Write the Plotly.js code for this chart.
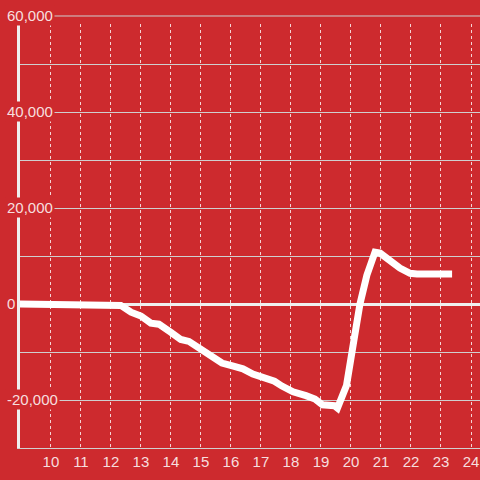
<!DOCTYPE html>
<html>
<head>
<meta charset="utf-8">
<script src="https://cdn.plot.ly/plotly-3.0.1.min.js"></script>
<style>html,body{margin:0;padding:0;background:#cd2a2e;}#chart{width:480px;height:480px;}</style>
</head>
<body>
<div id="chart"></div>
<script>
// Hour of day
const hours = [8.9, 12.2, 12.33, 12.67, 13.0, 13.33, 13.6, 14.0, 14.33, 14.6, 15.0, 15.33, 15.7, 16.05, 16.4, 16.73, 17.07, 17.45, 17.7, 18.07, 18.5, 18.8, 19.05, 19.45, 19.55, 19.85, 20.1, 20.3, 20.53, 20.8, 20.97, 21.3, 21.63, 21.97, 22.2, 23.37];
// Series values
const values = [0, 0, -300, -1700, -2500, -4000, -4200, -5900, -7400, -7800, -9300, -10500, -12300, -12900, -13500, -14600, -15400, -16100, -17100, -18300, -19100, -19800, -21000, -21200, -21700, -17000, -7500, 0, 6000, 10800, 10600, 9000, 7500, 6400, 6250, 6250];
// Tick labels
const xTicks = [10, 11, 12, 13, 14, 15, 16, 17, 18, 19, 20, 21, 22, 23, 24];
const yLabelVals = [60000, 40000, 20000, 0, -20000];

const BG = '#cd2a2e';
const TXT = 'rgba(255,255,255,0.86)';
const FONT = 'Liberation Sans, Arial, sans-serif';
const YMIN = -30000, YMAX = 58333;
const toPaper = v => (v - YMIN) / (YMAX - YMIN);

const annotations = yLabelVals.map(v => ({
  xref: 'paper', x: 0, xanchor: 'left', xshift: -15,
  yref: 'paper', y: toPaper(v), yanchor: 'middle',
  text: v.toLocaleString('en-US'),
  showarrow: false,
  bgcolor: BG, borderpad: 1,
  font: {family: FONT, size: 15, color: TXT}
}));

// gridline for the top label, which sits just above the plotting area
const shapes = yLabelVals.filter(v => v > YMAX).map(v => ({
  type: 'line', xref: 'paper', yref: 'paper', x0: 0, x1: 1, y0: toPaper(v), y1: toPaper(v),
  line: {color: '#cfcfcf', width: 1}, layer: 'below'
}));

const trace = {
  x: hours, y: values, type: 'scatter', mode: 'lines',
  line: {color: '#ffffff', width: 7},
  hoverinfo: 'skip'
};

const layout = {
  width: 480, height: 480,
  margin: {l: 20, r: 0, t: 24, b: 32},
  paper_bgcolor: BG, plot_bgcolor: BG,
  showlegend: false,
  xaxis: {
    range: [8.97, 24.3],
    tickvals: xTicks, ticktext: xTicks.map(String),
    showgrid: true, gridcolor: 'rgba(255,255,255,0.8)', griddash: 'dot', gridwidth: 1,
    zeroline: false, showline: true, linecolor: '#d0d0d0', linewidth: 1,
    ticks: '', tickfont: {family: FONT, size: 15, color: TXT}
  },
  yaxis: {
    range: [YMIN, YMAX], dtick: 10000, tick0: 0,
    showticklabels: false, ticks: '',
    showgrid: true, gridcolor: '#cfcfcf', gridwidth: 1,
    zeroline: true, zerolinecolor: '#efefef', zerolinewidth: 3,
    showline: true, linecolor: '#efefef', linewidth: 3
  },
  shapes: shapes,
  annotations: annotations
};

Plotly.newPlot('chart', [trace], layout, {displayModeBar: false, staticPlot: true});
</script>
</body>
</html>
